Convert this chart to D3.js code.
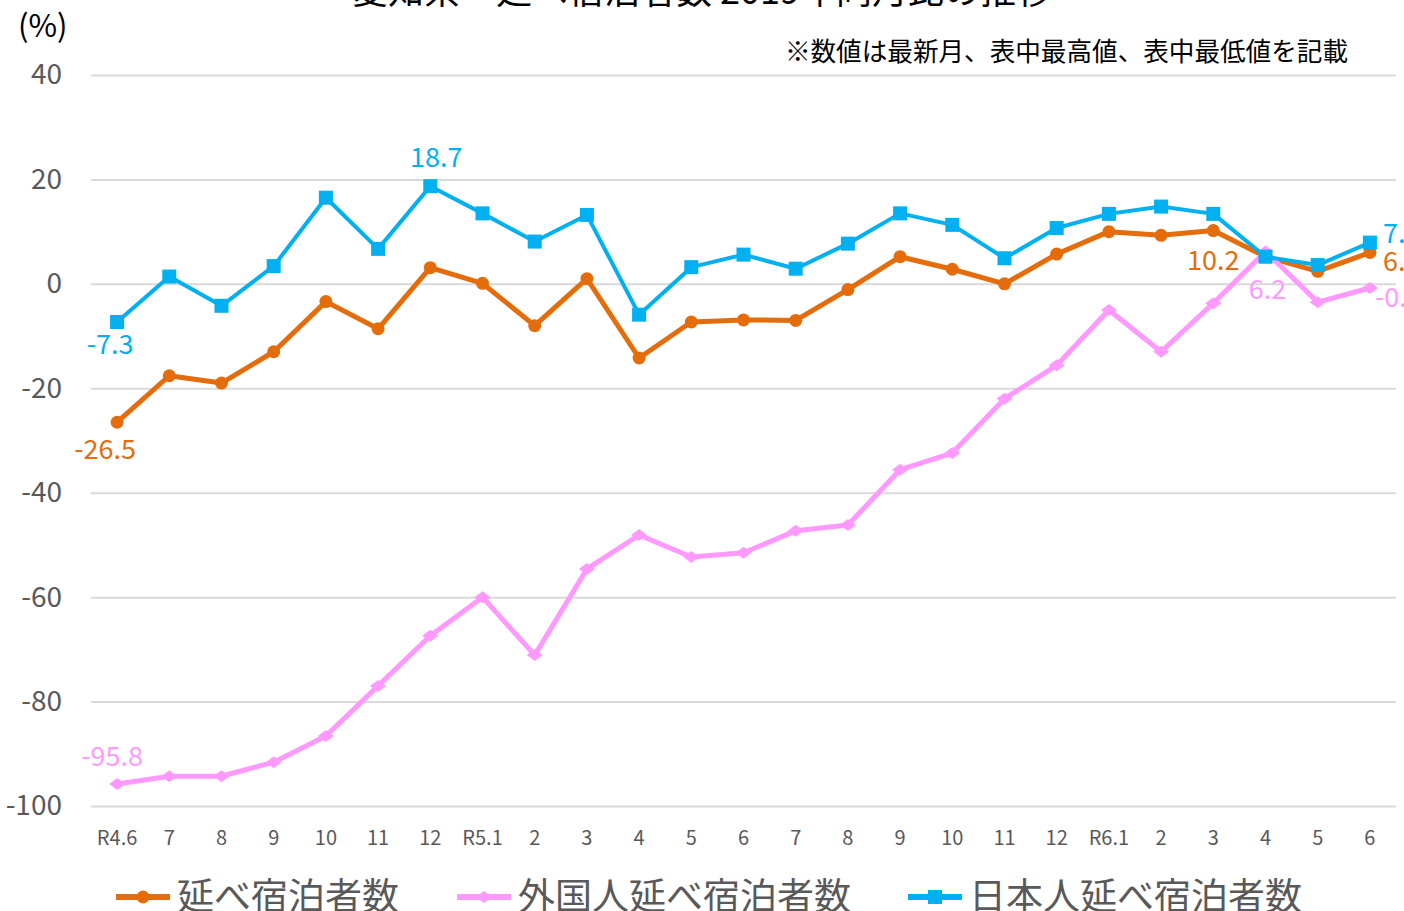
<!DOCTYPE html>
<html>
<head>
<meta charset="utf-8">
<script src="https://cdn.jsdelivr.net/npm/d3@7"></script>
<style>
  body { margin: 0; background: #fff; }
  svg { display: block; overflow: hidden; }
  text { font-family: "Noto Sans CJK JP", "Noto Sans", sans-serif; }
</style>
</head>
<body>
<div id="chart"></div>
<script>
// months (R4.6 .. R6.6)
const months = ["R4.6","7","8","9","10","11","12","R5.1","2","3","4","5","6",
                "7","8","9","10","11","12","R6.1","2","3","4","5","6"];
const yTicks = [40, 20, 0, -20, -40, -60, -80, -100];

// 延べ宿泊者数
const totalVals = [-26.5,-17.6,-19.0,-13.0,-3.4,-8.6,3.1,0.1,-8.0,1.0,-14.2,
                   -7.3,-6.9,-7.0,-1.1,5.2,2.8,0.0,5.7,10.0,9.3,10.2,5.2,2.4,6.0];
// 外国人延べ宿泊者数
const foreignVals = [-95.8,-94.3,-94.3,-91.6,-86.6,-77.0,-67.4,-60.0,-71.1,-54.6,-48.1,
                     -52.3,-51.5,-47.3,-46.2,-35.6,-32.4,-22.0,-15.6,-5.0,-13.0,-3.7,6.2,-3.5,-0.8];
// 日本人延べ宿泊者数
const japanVals = [-7.3,1.4,-4.2,3.4,16.5,6.7,18.7,13.5,8.1,13.2,-5.9,
                   3.2,5.6,2.9,7.7,13.5,11.3,4.9,10.7,13.4,14.8,13.4,5.2,3.6,7.9];

const W = 1404, H = 911;
const svg = d3.select("#chart").append("svg")
    .attr("width", W).attr("height", H);

const x = d3.scaleBand().domain(d3.range(months.length)).range([91, 1396]);
const cx = i => x(i) + x.bandwidth() / 2;
const y = d3.scaleLinear().domain([-100, 40]).range([806, 75]);

// title (cut off at the top, like the original)
svg.append("text")
    .attr("x", 702).attr("y", 4)
    .attr("text-anchor", "middle")
    .style("font-size", "36px").style("fill", "#000")
    .text("愛知県　延べ宿泊者数 2019年同月比の推移");

svg.append("text")
    .attr("x", 1348).attr("y", 61)
    .attr("text-anchor", "end")
    .style("font-size", "25.6px").style("fill", "#000")
    .text("※数値は最新月、表中最高値、表中最低値を記載");

svg.append("text")
    .attr("x", 18).attr("y", 37)
    .style("font-size", "31px").style("fill", "#000")
    .text("(%)");

// gridlines + y labels
const yAxis = d3.axisLeft(y).tickValues(yTicks).tickFormat(d => String(d))
    .tickSize(-(1396 - 91)).tickPadding(29);
const gy = svg.append("g").attr("transform", "translate(91,0)").call(yAxis);
gy.select(".domain").remove();
gy.selectAll(".tick line").attr("stroke", "#d9d9d9").attr("stroke-width", 2);
gy.selectAll(".tick text")
    .style("font-size", "28px").style("fill", "#595959")
    .style("font-family", "\"Noto Sans CJK JP\", sans-serif");

// x labels
const xAxis = d3.axisBottom(x).tickFormat(i => months[i]).tickSize(0).tickPadding(0);
const gx = svg.append("g").attr("transform", "translate(0,838)").call(xAxis);
gx.select(".domain").remove();
gx.selectAll(".tick text")
    .attr("dy", "0.35em")
    .style("font-size", "20px").style("fill", "#595959")
    .style("font-family", "\"Noto Sans CJK JP\", sans-serif");

const series = [
    {name: "延べ宿泊者数", vals: totalVals, color: "#e46c0a", width: 5, shape: "circle"},
    {name: "外国人延べ宿泊者数", vals: foreignVals, color: "#ff99ff", width: 5, shape: "diamond"},
    {name: "日本人延べ宿泊者数", vals: japanVals, color: "#00b0f0", width: 4, shape: "square"}
];

function drawMarker(g, shape, color, px, py) {
    if (shape == "circle") {
        g.append("circle").attr("cx", px).attr("cy", py).attr("r", 6.5).attr("fill", color);
    } else if (shape == "square") {
        g.append("rect").attr("x", px - 7).attr("y", py - 7)
            .attr("width", 14).attr("height", 14).attr("fill", color);
    } else {
        g.append("path")
            .attr("d", `M${px - 8},${py} L${px},${py - 6} L${px + 8},${py} L${px},${py + 6} Z`)
            .attr("fill", color);
    }
}

const line = d3.line().x((d, i) => cx(i)).y(d => y(d));

series.forEach(s => {
    const g = svg.append("g");
    g.append("path")
        .attr("d", line(s.vals))
        .attr("fill", "none")
        .attr("stroke", s.color)
        .attr("stroke-width", s.width)
        .attr("stroke-linejoin", "round");
    s.vals.forEach((v, i) => drawMarker(g, s.shape, s.color, cx(i), y(v)));
});

// data labels: [series index, point index, dx, dy, anchor]
const labels = [
    [0, 0, -12, 27, "middle"],
    [0, 21, 0, 30, "middle"],
    [0, 24, 13, 9, "start"],
    [1, 0, -5, -28, "middle"],
    [1, 22, 2, 38, "middle"],
    [1, 24, 5, 10, "start"],
    [2, 0, -7, 23, "middle"],
    [2, 6, 6, -29, "middle"],
    [2, 24, 13, -9, "start"]
];
labels.forEach(l => {
    const s = series[l[0]];
    const v = s.vals[l[1]];
    svg.append("text")
        .attr("x", cx(l[1]) + l[2])
        .attr("y", y(v) + l[3])
        .attr("dy", "0.35em")
        .attr("text-anchor", l[4])
        .style("font-size", "27px")
        .style("fill", s.color)
        .text(v.toFixed(1));
});

// legend
const legendX = [116, 457, 908];
series.forEach((s, k) => {
    const g = svg.append("g");
    const lx = legendX[k], ly = 897;
    g.append("line").attr("x1", lx).attr("x2", lx + 54).attr("y1", ly).attr("y2", ly)
        .attr("stroke", s.color).attr("stroke-width", 6);
    drawMarker(g, s.shape, s.color, lx + 27, ly);
    g.append("text")
        .attr("x", lx + 61).attr("y", ly)
        .attr("dy", "0.35em")
        .style("font-size", "37px").style("fill", "#595959")
        .text(s.name);
});
</script>
</body>
</html>
